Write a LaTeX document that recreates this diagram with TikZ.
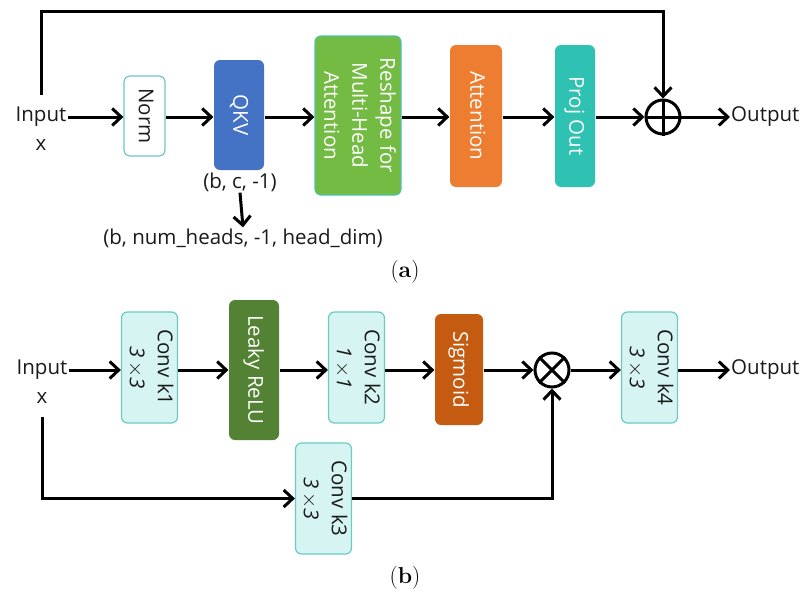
\documentclass[tikz,border=0pt]{standalone}
\usepackage{fontspec}
\setsansfont{Open Sans}
\usetikzlibrary{arrows.meta}
\definecolor{cqkv}{HTML}{4472C4}
\definecolor{cresh}{HTML}{74BB44}
\definecolor{creshb}{HTML}{4FC3A8}
\definecolor{catt}{HTML}{ED7D31}
\definecolor{cproj}{HTML}{2FC1B2}
\definecolor{cleaky}{HTML}{548235}
\definecolor{csig}{HTML}{C55A11}
\definecolor{clight}{HTML}{D6F4F2}
\definecolor{clightb}{HTML}{6CC9C4}
\definecolor{ctext}{HTML}{1A1A1A}
\tikzset{
  blk/.style={rectangle, rounded corners=6pt, inner sep=0pt, line width=1.2pt, font=\sffamily\fontsize{20.5}{28}\selectfont},
  darkblk/.style={blk, text=white},
  lightblk/.style={blk, fill=clight, draw=clightb, text=ctext},
  lbl/.style={font=\sffamily\fontsize{20.5}{24}\selectfont, text=ctext, inner sep=1pt},
  conn/.style={line width=3pt, -{Straight Barb[length=9pt,width=17pt,line width=3pt]}},
  opc/.style={circle, draw, line width=3pt, minimum size=34pt, inner sep=0pt},
  captxt/.style={font=\fontsize{23}{26}\selectfont}
}
\newcommand{\rot}[1]{\rotatebox{-90}{\begin{tabular}{@{}c@{}}#1\end{tabular}}}
\begin{document}
\begin{tikzpicture}[x=1pt,y=-1pt]
\useasboundingbox (0,0) rectangle (801,597);
% ---------- (a) ----------
\node[lbl] (inA) at (41,117) {Input};
\node[lbl] (xA) at (41,145) {x};
\node[blk, draw=clightb, fill=white, text=ctext, minimum width=41pt, minimum height=80pt] (norm) at (144.5,116) {\rot{Norm}};
\node[darkblk, fill=cqkv, minimum width=50pt, minimum height=110pt] (qkv) at (239,115) {\rot{QKV}};
\node[darkblk, fill=cresh, draw=creshb, minimum width=86pt, minimum height=159pt] (resh) at (358,115.5) {\rot{Reshape for\\Multi-Head\\Attention}};
\node[darkblk, fill=catt, minimum width=52pt, minimum height=142pt] (att) at (476,116) {\rot{Attention}};
\node[darkblk, fill=cproj, minimum width=40pt, minimum height=142pt] (proj) at (575,116) {\rot{Proj Out}};
\node[opc] (plus) at (663,117) {};
\draw[line width=3pt] (plus.north) -- (plus.south) (plus.west) -- (plus.east);
\node[lbl, anchor=west] (outA) at (730,117) {Output};
\node[lbl] (shape1) at (240,182) {(b, c, -1)};
\node[lbl] (shape2) at (243,238) {(b, num\_heads, -1, head\_dim)};
\coordinate (loopA) at (41,95);
\draw[conn] (inA.east) -- (norm.west |- inA.east);
\draw[conn] (norm.east |- 0,117) -- (qkv.west |- 0,117);
\draw[conn] (qkv.east |- 0,117) -- (resh.west |- 0,117);
\draw[conn] (resh.east |- 0,117) -- (att.west |- 0,117);
\draw[conn] (att.east |- 0,117) -- (proj.west |- 0,117);
\draw[conn] (proj.east |- 0,117) -- (plus.west);
\draw[conn] (plus.east) -- (outA.west);
\draw[conn] (loopA) -- (41,11) -| (plus.north);
\draw[conn] (shape1.south) -- (shape2.north);
\node[captxt] (capA) at (405,272) {(\textbf{a})};
% ---------- (b) ----------
\node[lbl] (inB) at (42,370) {Input};
\node[lbl] (xB) at (42,398) {x};
\node[lightblk, minimum width=55pt, minimum height=111pt] (k1) at (149.5,367.5) {\rot{Conv k1\\\textit{3\,$\times$3}}};
\node[darkblk, fill=cleaky, minimum width=50pt, minimum height=140pt] (leaky) at (254,370) {\rot{Leaky ReLU}};
\node[lightblk, minimum width=55pt, minimum height=111pt] (k2) at (356.5,367.5) {\rot{Conv k2\\\textit{1\,$\times$1}}};
\node[darkblk, fill=csig, minimum width=48pt, minimum height=111pt] (sig) at (459,369.5) {\rot{Sigmoid}};
\node[opc] (times) at (552,370) {};
\draw[line width=3pt] (times.north west) -- (times.south east) (times.north east) -- (times.south west);
\node[lightblk, minimum width=55pt, minimum height=111pt] (k4) at (649.5,367.5) {\rot{Conv k4\\\textit{3\,$\times$3}}};
\node[lightblk, minimum width=55pt, minimum height=111pt] (k3) at (323.5,498.5) {\rot{Conv k3\\\textit{3\,$\times$3}}};
\node[lbl, anchor=west] (outB) at (730,370) {Output};
\coordinate (loopB) at (42,417);
\draw[conn] (inB.east) -- (k1.west |- inB.east);
\draw[conn] (k1.east |- 0,370) -- (leaky.west |- 0,370);
\draw[conn] (leaky.east |- 0,370) -- (k2.west |- 0,370);
\draw[conn] (k2.east |- 0,370) -- (sig.west |- 0,370);
\draw[conn] (sig.east |- 0,370) -- (times.west);
\draw[conn] (times.east) -- (k4.west |- 0,370);
\draw[conn] (k4.east |- 0,370) -- (outB.west);
\draw[conn] (loopB) |- (k3.west);
\draw[conn] (k3.east) -| (times.south);
\node[captxt] (capB) at (405,578) {(\textbf{b})};
\end{tikzpicture}
\end{document}
